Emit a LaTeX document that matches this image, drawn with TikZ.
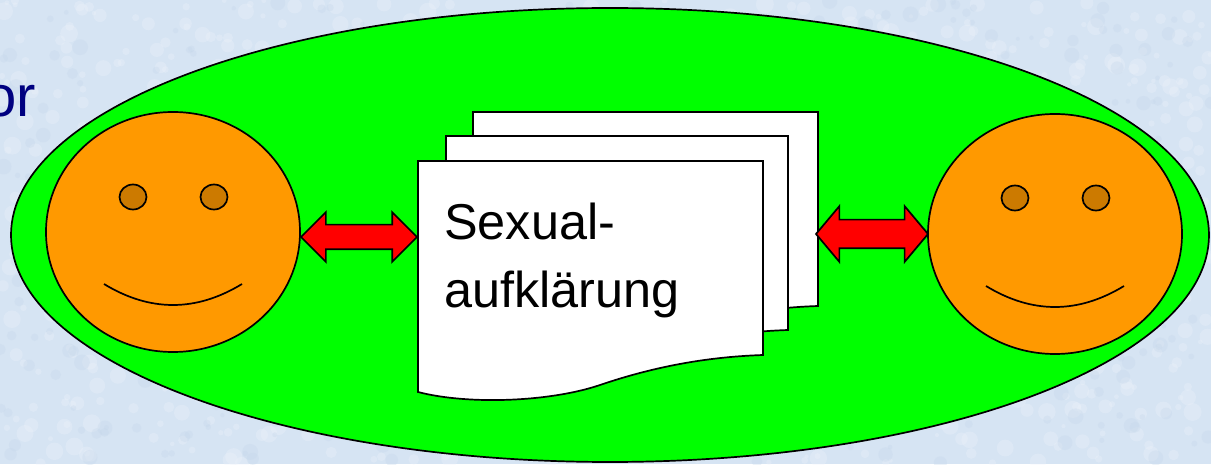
\documentclass[tikz,border=0pt]{standalone}
\usepackage{fontspec}
\setmainfont{Liberation Sans}
\usetikzlibrary{shapes.geometric, shapes.arrows, positioning}
\definecolor{paleblue}{RGB}{214,228,243}
\definecolor{blotch}{RGB}{238,243,251}
\definecolor{blotchdark}{RGB}{196,214,234}
\definecolor{facecol}{RGB}{255,153,0}
\definecolor{eyecol}{RGB}{204,122,0}
\definecolor{navytext}{RGB}{0,0,128}
\tikzset{
	face/.style={ellipse, draw, line width=1.7pt, fill=facecol, minimum width=254pt, minimum height=240pt, inner sep=0pt},
	eye/.style={ellipse, draw, line width=1.7pt, fill=eyecol, minimum width=27pt, minimum height=25pt, inner sep=0pt},
	link/.style={double arrow, draw, line width=1.7pt, fill=red, inner sep=0pt, double arrow head extend=12.5pt, text width=0pt, text height=11.5pt, text depth=11.5pt},
	docpage/.style={draw, line width=1.7pt, fill=white}
}
\newcommand{\docsheet}[3]{\draw[docpage] (#1,#2) -- ++(#3,0) -- ++(0,-194) .. controls +(-60,-2) and +(50,17) .. ++(-163,-30) .. controls +(-50,-17) and +(50,-13) .. (#1,#2-231) -- cycle;}

\begin{document}
\begin{tikzpicture}[x=1pt, y=1pt]
	\clip (0,0) rectangle (1211,464);
	\fill[paleblue] (0,0) rectangle (1211,464);
	% mottled backdrop
	\pgfmathsetseed{41}
	\foreach \i in {1,...,1100} {
		\pgfmathsetmacro{\bx}{rnd*1211}
		\pgfmathsetmacro{\by}{rnd*464}
		\pgfmathsetmacro{\br}{2+rnd*7}
		\fill[blotch, opacity=0.3] (\bx,\by) circle[radius=\br];
	}
	\foreach \i in {1,...,600} {
		\pgfmathsetmacro{\bx}{rnd*1211}
		\pgfmathsetmacro{\by}{rnd*464}
		\pgfmathsetmacro{\br}{2+rnd*6}
		\fill[blotchdark, opacity=0.3] (\bx,\by) circle[radius=\br];
	}
	\node[anchor=base east, text=navytext, font=\fontsize{58}{58}\selectfont, inner sep=0pt] (word) at (36,347) {or};
	\node[ellipse, draw, line width=1.7pt, fill=green, minimum width=1198pt, minimum height=454pt, inner sep=0pt] (field) at (610,229) {};
	% faces
	\node[face] (faceL) at (173,232) {};
	\node[face] (faceR) at (1055,230) {};
	\node[eye] (eyeLa) at (133,267) {};
	\node[eye] (eyeLb) at (214,267) {};
	\node[eye] (eyeRa) at (1015,266) {};
	\node[eye] (eyeRb) at (1096,266) {};
	\draw[line width=1.7pt] (104,180) .. controls (150,152) and (196,152) .. (242,180);
	\draw[line width=1.7pt] (986,178) .. controls (1032,150) and (1078,150) .. (1124,178);
	% sheets, back to front
	\docsheet{473}{352}{345}
	\docsheet{446}{328}{342}
	\docsheet{418}{303}{345}
	\node[anchor=north west, align=left, inner sep=0pt, font=\fontsize{50.4}{68}\selectfont] (title) at (444,261) {Sexual-\\aufklärung};
	% arrows
	\node[link, minimum height=116pt, minimum width=48pt] (linkL) at (359,227) {};
	\node[link, minimum height=112pt, minimum width=54pt, text height=13.5pt, text depth=13.5pt, double arrow head extend=13.5pt, double arrow tip angle=100] (linkR) at (872,230) {};
\end{tikzpicture}
\end{document}
